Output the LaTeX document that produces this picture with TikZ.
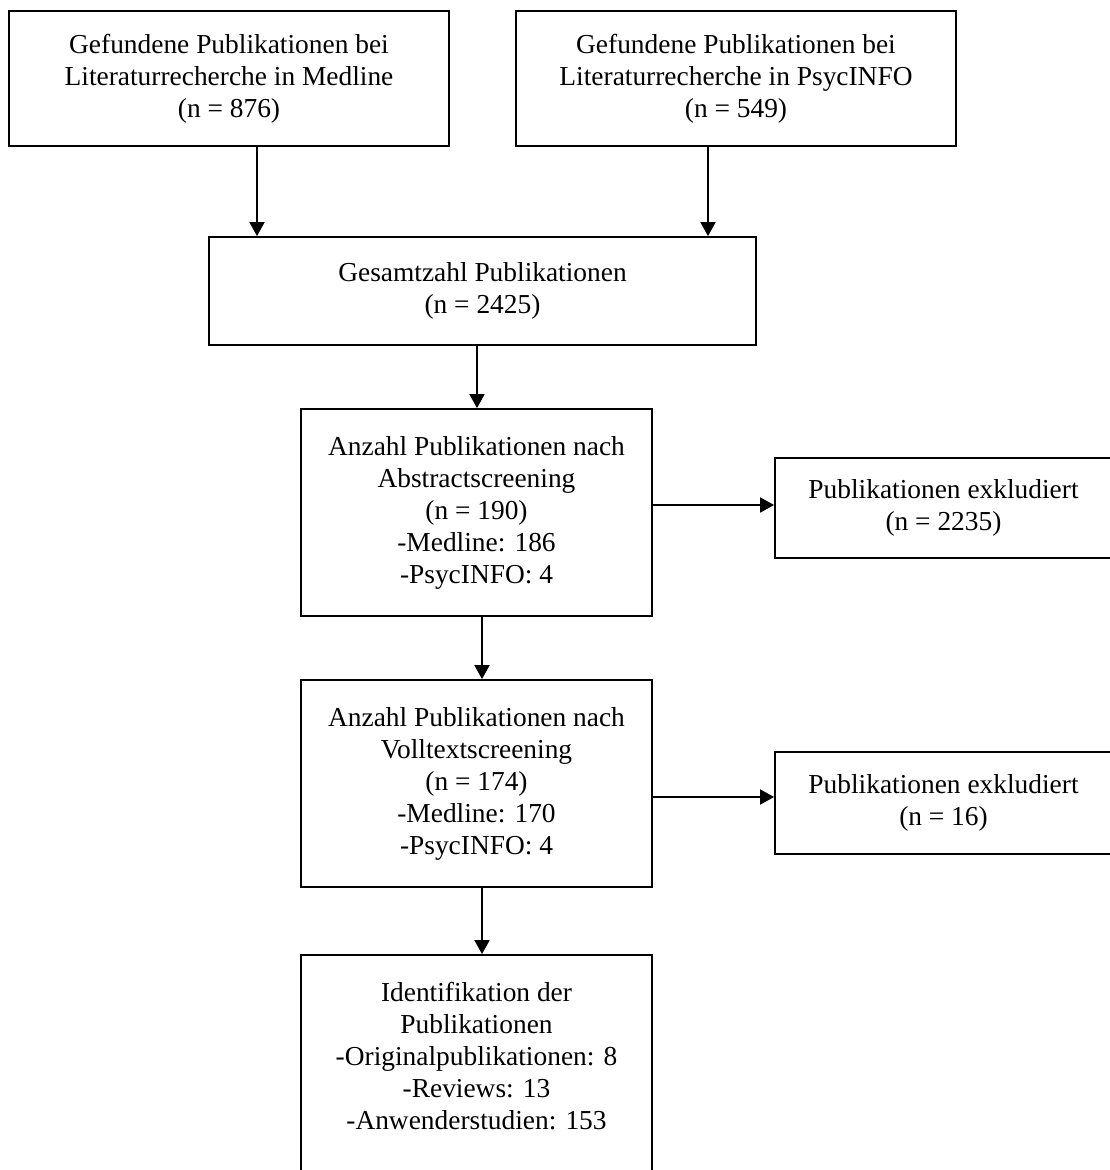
\documentclass[tikz,border=0pt]{standalone}
\usepackage{fontspec}
\setmainfont{Liberation Serif}
\usetikzlibrary{arrows.meta}
\begin{document}
\begin{tikzpicture}[x=1pt,y=-1pt,
  box/.style={draw=black,line width=1.8pt,rectangle,inner sep=0pt,align=center,
    font=\fontsize{27.4}{32}\selectfont},
  arr/.style={line width=1.8pt,-{Triangle[length=14pt,width=15pt]}}]
\useasboundingbox (0,0) rectangle (1110,1170);
\clip (0,0) rectangle (1110,1170);
\fill[white] (0,0) rectangle (1110,1170);
\node[box,minimum width=440,minimum height=135] (b1) at (229,78.5)
  {Gefundene Publikationen bei\\Literaturrecherche in Medline\\(n = 876)};
\node[box,minimum width=440,minimum height=135] (b2) at (736,78.5)
  {Gefundene Publikationen bei\\Literaturrecherche in PsycINFO\\(n = 549)};
\node[box,minimum width=547,minimum height=108] (b3) at (482.5,291)
  {Gesamtzahl Publikationen\\(n = 2425)};
\node[box,minimum width=351,minimum height=207] (b4) at (476.5,512.5)
  {Anzahl Publikationen nach\\Abstractscreening\\(n = 190)\\-Medline: 186\\-PsycINFO: 4};
\node[box,minimum width=337,minimum height=100] (b5) at (943.5,508)
  {Publikationen exkludiert\\(n = 2235)};
\node[box,minimum width=351,minimum height=207] (b6) at (476.5,783.5)
  {Anzahl Publikationen nach\\Volltextscreening\\(n = 174)\\-Medline: 170\\-PsycINFO: 4};
\node[box,minimum width=337,minimum height=102] (b7) at (943.5,803)
  {Publikationen exkludiert\\(n = 16)};
\node[box,minimum width=351,minimum height=217] (b8) at (476.5,1063.5)
  {Identifikation der\\Publikationen\\-Originalpublikationen: 8\\-Reviews: 13\\-Anwenderstudien: 153\\[-16pt]};
\coordinate (c1) at (257,0);
\coordinate (c2) at (708,0);
\coordinate (c3) at (477,0);
\coordinate (c4) at (482,0);
\coordinate (r1) at (0,505);
\coordinate (r2) at (0,797);
\draw[arr] (b1.south -| c1) -- (b3.north -| c1);
\draw[arr] (b2.south -| c2) -- (b3.north -| c2);
\draw[arr] (b3.south -| c3) -- (b4.north -| c3);
\draw[arr] (b4.south -| c4) -- (b6.north -| c4);
\draw[arr] (b6.south -| c4) -- (b8.north -| c4);
\draw[arr] (b4.east |- r1) -- (b5.west |- r1);
\draw[arr] (b6.east |- r2) -- (b7.west |- r2);
\end{tikzpicture}
\end{document}
